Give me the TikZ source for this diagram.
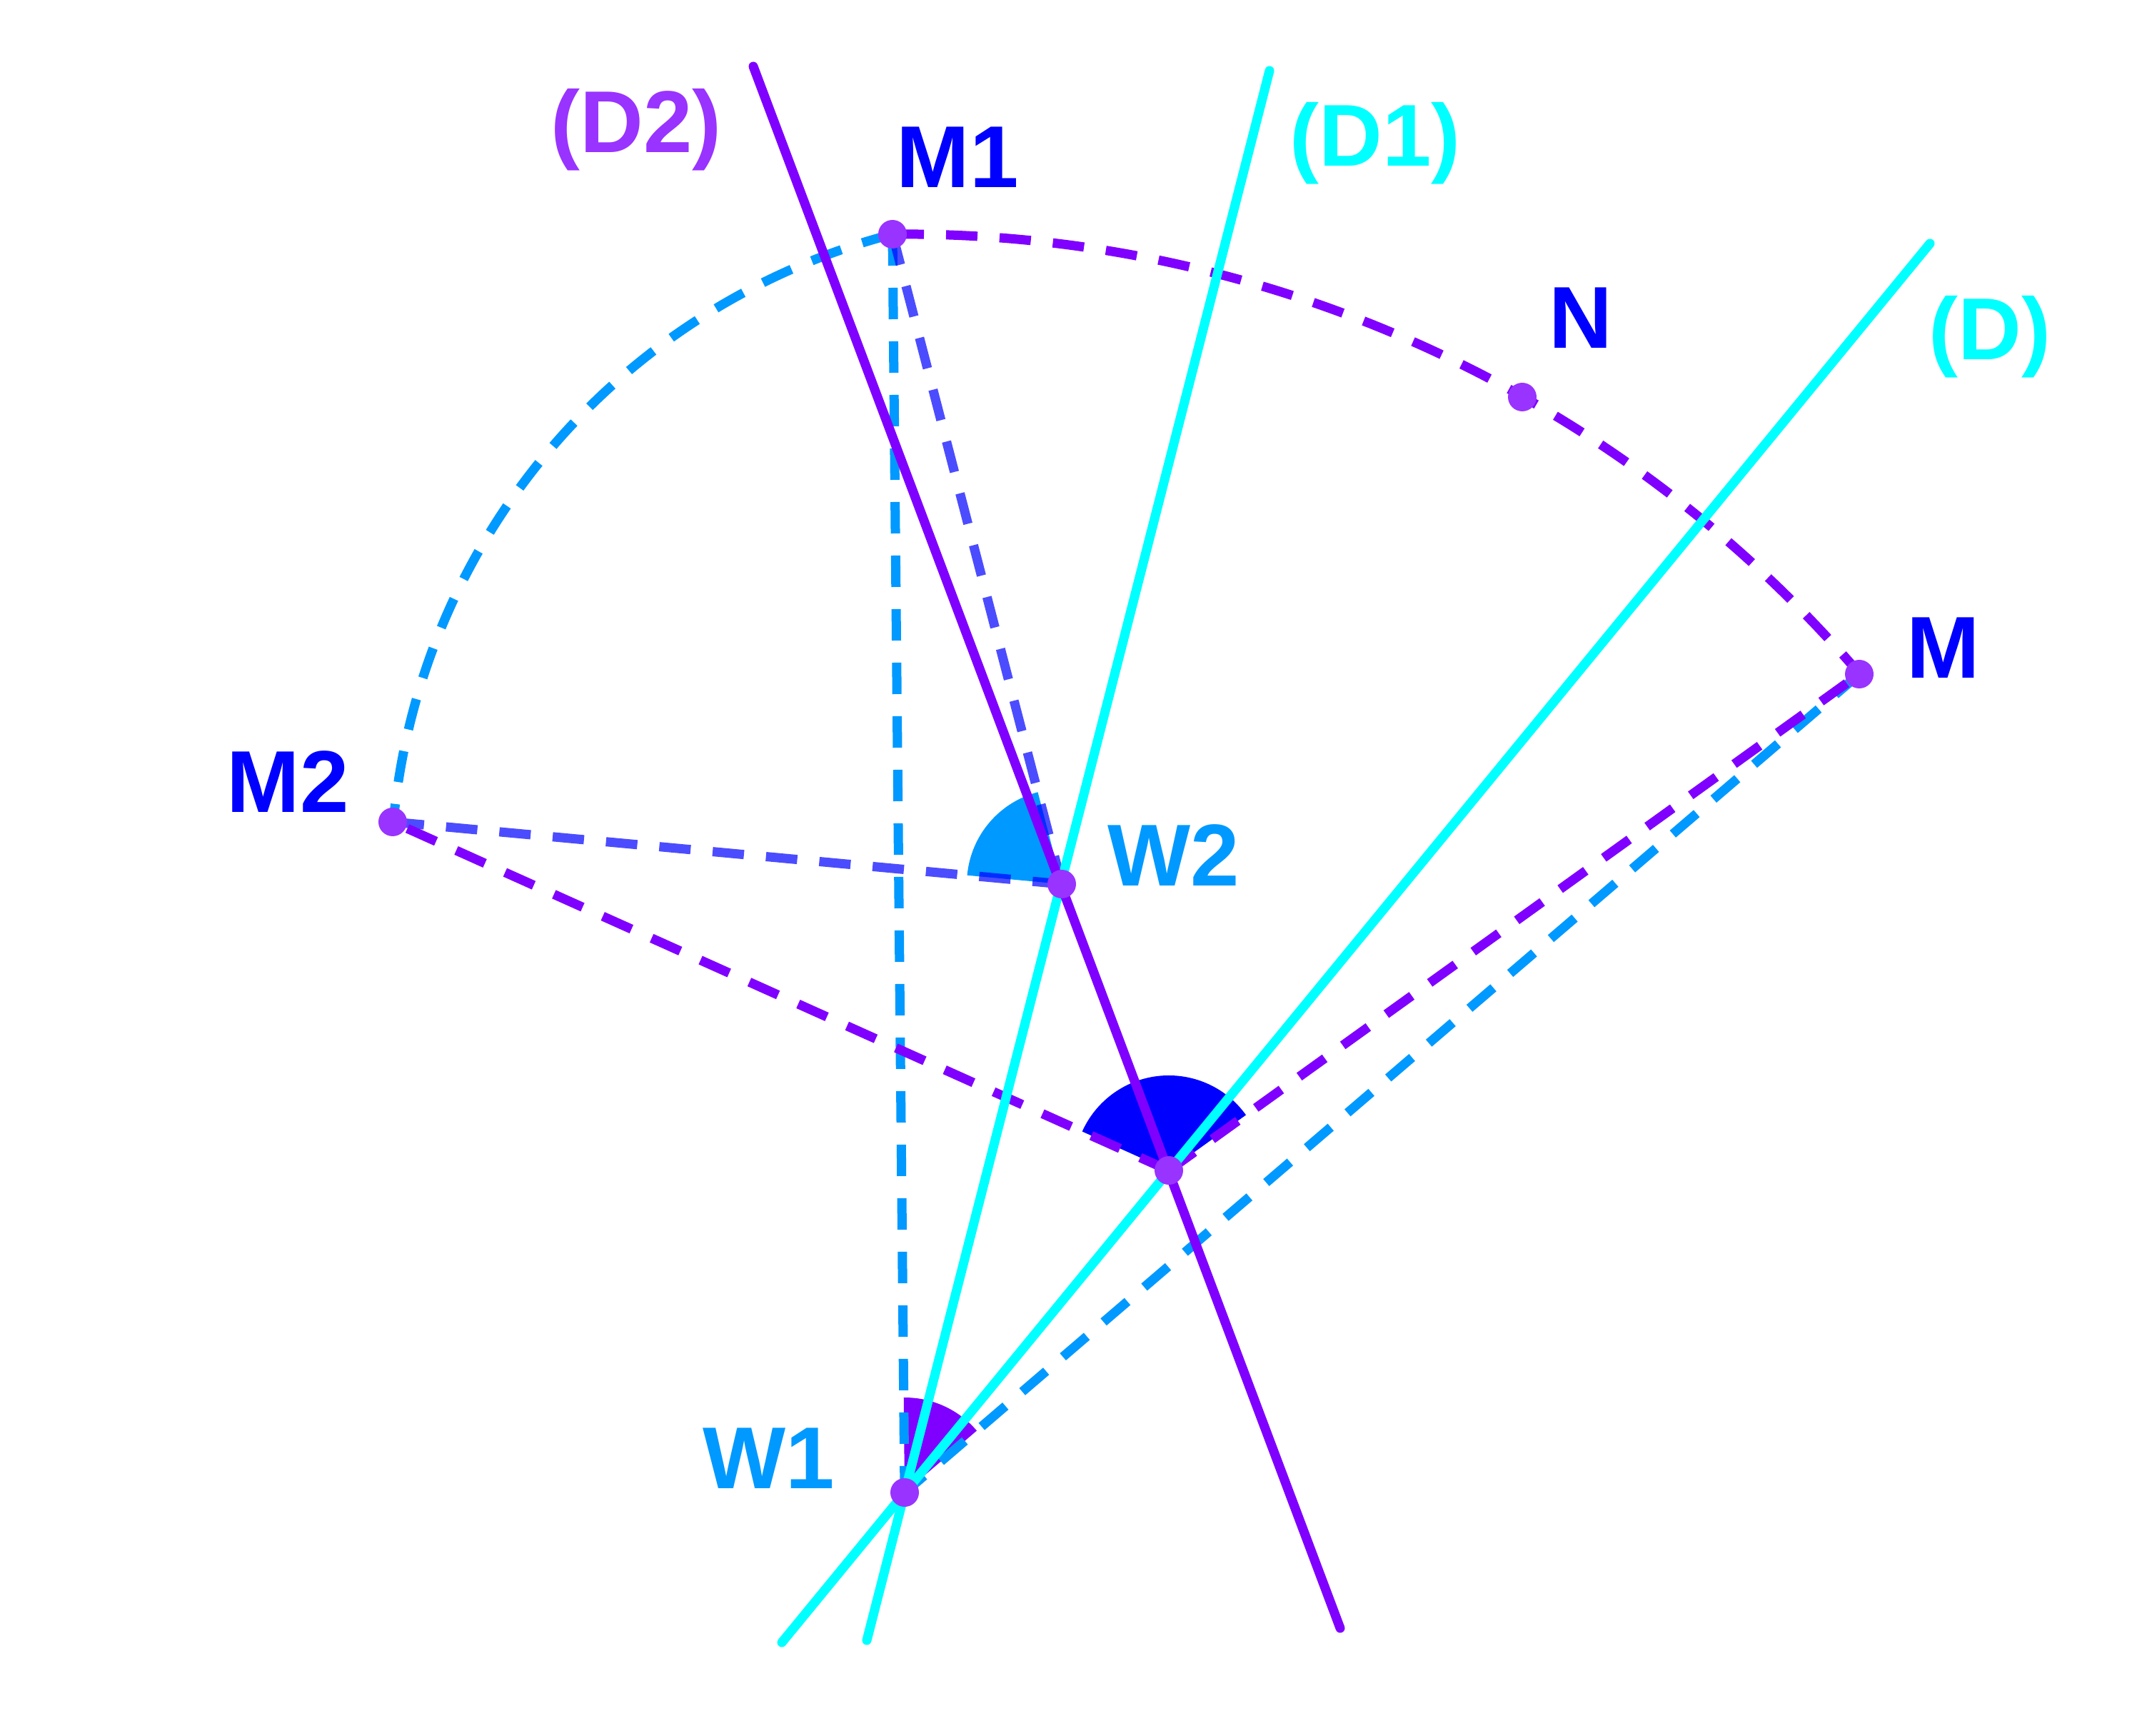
\documentclass[tikz,border=0pt]{standalone}
\usepackage{fontspec}
\setmainfont{Liberation Sans}
\definecolor{violetline}{HTML}{7F00FF}
\definecolor{cyanline}{HTML}{00FFFF}
\definecolor{skyline}{HTML}{0099FF}
\definecolor{blueline}{HTML}{0000FF}
\definecolor{ptcol}{HTML}{9933FF}
\begin{document}
\begin{tikzpicture}[
  lbl/.style={font=\bfseries\fontsize{35}{42}\selectfont,inner sep=0pt},
  pt/.style={circle,fill=ptcol,inner sep=0pt,minimum size=0.4cm},
  dsh/.style={line width=0.13cm,dash pattern=on 0.44cm off 0.31cm},
  ln/.style={line width=0.13cm,line cap=round}]
\useasboundingbox (0,0) rectangle (30,24.3);
\coordinate(W1) at (12.67,3.40);
\coordinate(W2) at (14.87,11.92);
\coordinate(I) at (16.37,7.91);
\coordinate(M) at (26.04,14.86);
\coordinate(M1) at (12.50,21.02);
\coordinate(M2) at (5.50,12.79);
\coordinate(N) at (21.32,18.74);
\coordinate(dtop) at (27.03,20.89);
\coordinate(dbot) at (10.95,1.30);
\coordinate(d1top) at (17.78,23.31);
\coordinate(d1bot) at (12.14,1.33);
\coordinate(d2top) at (10.55,23.37);
\coordinate(d2bot) at (18.77,1.50);
\path[fill=violetline] (W1) -- ++(40.6:1.33) arc[start angle=40.6,end angle=90.55,radius=1.33] -- cycle;
\path[fill=skyline] (W2) -- ++(104.6:1.33) arc[start angle=104.6,end angle=174.7,radius=1.33] -- cycle;
\path[fill=blueline] (I) -- ++(35.7:1.33) arc[start angle=35.7,end angle=155.8,radius=1.33] -- cycle;
\path[draw,dsh,skyline] (M1) -- (W1);
\path[draw,dsh,skyline] (M) -- (W1);
\path[draw,dsh,skyline] (M1) arc[start angle=104.6,end angle=174.7,radius=9.40];
\path[draw,dsh,blueline,draw opacity=0.7] (M1) -- (W2);
\path[draw,dsh,blueline,draw opacity=0.7] (M2) -- (W2);
\path[draw,dsh,violetline] (I) -- (M2);
\path[draw,dsh,violetline] (I) -- (M);
\path[draw,dsh,violetline] (M1) arc[start angle=90.55,end angle=40.6,radius=17.61];
\path[draw,ln,cyanline] (dbot) -- (dtop);
\path[draw,ln,cyanline] (d1bot) -- (d1top);
\path[draw,ln,violetline] (d2top) -- (d2bot);
\node(pw1)[pt] at (W1){};
\node(pw2)[pt] at (W2){};
\node(pi)[pt] at (I){};
\node(pm)[pt] at (M){};
\node(pm1)[pt] at (M1){};
\node(pm2)[pt] at (M2){};
\node(pn)[pt] at (N){};
\node(lw1)[lbl,text=skyline] at (10.77,3.88){W1};
\node(lw2)[lbl,text=skyline] at (16.44,12.32){W2};
\node(lm)[lbl,text=blueline] at (27.22,15.23){M};
\node(lm1)[lbl,text=blueline] at (13.41,22.10){M1};
\node(lm2)[lbl,text=blueline] at (4.03,13.35){M2};
\node(ln)[lbl,text=blueline] at (22.14,19.85){N};
\node(ld)[lbl,text=cyanline] at (27.87,19.58){(D)};
\node(ld1)[lbl,text=cyanline] at (19.26,22.29){(D1)};
\node(ld2)[lbl,text=ptcol] at (8.91,22.48){(D2)};
\end{tikzpicture}
\end{document}
